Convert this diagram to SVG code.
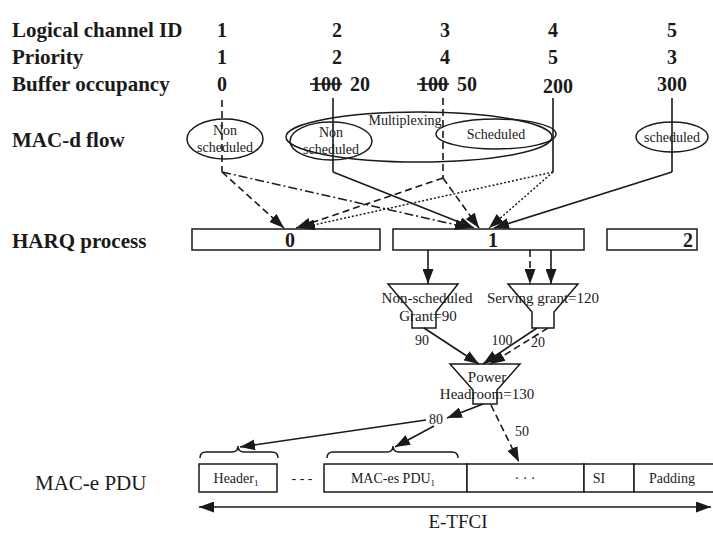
<svg xmlns="http://www.w3.org/2000/svg" width="713" height="534" viewBox="0 0 713 534">
<defs>
<marker id="ah" markerUnits="userSpaceOnUse" markerWidth="15" markerHeight="11" refX="15" refY="5.5" orient="auto"><path d="M0,0 L15,5.5 L0,11 z" fill="#1a1a1a"/></marker>
<marker id="ahs" markerUnits="userSpaceOnUse" markerWidth="15" markerHeight="11" refX="0" refY="5.5" orient="auto"><path d="M15,0 L0,5.5 L15,11 z" fill="#1a1a1a"/></marker>
<style>
.lbl{font-family:"Liberation Serif","Times New Roman",serif;font-size:21px;font-weight:bold;fill:#1a1a1a}
.num{font-family:"Liberation Serif","Times New Roman",serif;font-size:20px;font-weight:bold;fill:#1a1a1a;text-anchor:middle}
.sm{font-family:"Liberation Serif","Times New Roman",serif;font-size:14px;fill:#1a1a1a;text-anchor:middle}
.md{font-family:"Liberation Serif","Times New Roman",serif;font-size:15px;fill:#1a1a1a;text-anchor:middle}
.big{font-family:"Liberation Serif","Times New Roman",serif;font-size:19px;fill:#1a1a1a;text-anchor:middle}
.reg{font-family:"Liberation Serif","Times New Roman",serif;font-size:21px;fill:#1a1a1a}
.box{fill:#fff;stroke:#1a1a1a;stroke-width:1.5}
.shp{fill:none;stroke:#1a1a1a;stroke-width:1.5}
.s{fill:none;stroke:#1a1a1a;stroke-width:1.6}
.d{fill:none;stroke:#1a1a1a;stroke-width:1.6;stroke-dasharray:7 4}
.dd{fill:none;stroke:#1a1a1a;stroke-width:1.5;stroke-dasharray:9 3 2 3}
.dt{fill:none;stroke:#1a1a1a;stroke-width:1.5;stroke-dasharray:2 2}
</style>
</defs>
<rect width="713" height="534" fill="#fff"/>

<g id="row-labels">
<text class="lbl" x="12" y="37">Logical channel ID</text>
<text class="lbl" x="12" y="64">Priority</text>
<text class="lbl" x="12" y="91">Buffer occupancy</text>
<text class="lbl" x="12" y="147">MAC-d flow</text>
<text class="lbl" x="12" y="248">HARQ process</text>
<text class="reg" x="35" y="490">MAC-e PDU</text>
</g>

<g id="table-values">
<text class="num" x="222" y="37">1</text>
<text class="num" x="337" y="37">2</text>
<text class="num" x="445" y="37">3</text>
<text class="num" x="553" y="37">4</text>
<text class="num" x="672" y="37">5</text>
<text class="num" x="222" y="64">1</text>
<text class="num" x="337" y="64">2</text>
<text class="num" x="445" y="64">4</text>
<text class="num" x="553" y="64">5</text>
<text class="num" x="672" y="64">3</text>
<text class="num" x="222" y="91">0</text>
<text class="num" x="326" y="91">100</text>
<line x1="310" y1="84" x2="342" y2="84" stroke="#1a1a1a" stroke-width="1.6"/>
<text class="num" x="360" y="91">20</text>
<text class="num" x="433" y="91">100</text>
<line x1="417" y1="84" x2="449" y2="84" stroke="#1a1a1a" stroke-width="1.6"/>
<text class="num" x="467" y="91">50</text>
<text class="num" x="558" y="93">200</text>
<text class="num" x="672" y="91">300</text>
</g>

<g id="macd-flow1">
<ellipse class="shp" cx="225" cy="139" rx="38" ry="20"/>
<text class="sm" x="225" y="135">Non</text>
<text class="sm" x="225" y="152">scheduled</text>
</g>
<g id="multiplexing">
<ellipse class="shp" cx="419" cy="137" rx="133" ry="25"/>
<text class="sm" x="405" y="125">Multiplexing</text>
</g>
<g id="macd-flow2">
<ellipse class="shp" cx="331" cy="141" rx="41" ry="19"/>
<text class="sm" x="331" y="137">Non</text>
<text class="sm" x="331" y="154">scheduled</text>
</g>
<g id="macd-flow3">
<ellipse class="shp" cx="496" cy="134" rx="60" ry="15"/>
<text class="sm" x="496" y="139">Scheduled</text>
</g>
<g id="macd-flow4">
<ellipse class="shp" cx="672" cy="137" rx="36" ry="15"/>
<text class="sm" x="672" y="142">scheduled</text>
</g>

<g id="harq0"><rect class="box" x="192" y="229" width="188" height="21"/><text class="num" x="290" y="247">0</text></g>
<g id="harq1"><rect class="box" x="393" y="229" width="191" height="21"/><text class="num" x="493" y="247">1</text></g>
<g id="harq2"><rect class="box" x="607" y="229" width="90" height="21"/><text class="num" x="688" y="247">2</text></g>

<g id="grant-nonscheduled">
<path class="shp" d="M388,284 L458,284 L436,312 L436,328 L412,328 L412,312 Z"/>
<text class="md" x="427" y="303">Non-scheduled</text>
<text class="md" x="428" y="321">Grant=90</text>
</g>
<g id="grant-serving">
<path class="shp" d="M508,284 L578,284 L554,312 L554,328 L532,328 L532,312 Z"/>
<text class="md" x="543" y="303">Serving grant=120</text>
</g>
<g id="power-headroom">
<path class="shp" d="M450,364 L520,364 L497,390 L497,404 L473,404 L473,390 Z"/>
<text class="md" x="487" y="382">Power</text>
<text class="md" x="487" y="399">Headroom=130</text>
</g>

<g id="mac-e-pdu">
<rect class="box" x="199" y="464" width="78" height="28"/>
<text class="sm" x="236" y="483">Header<tspan font-size="9" dy="3">1</tspan></text>
<text class="sm" x="302" y="483" fill="#888">- - -</text>
<rect class="box" x="324" y="464" width="143" height="28"/>
<text class="sm" x="393" y="483">MAC-es PDU<tspan font-size="9" dy="3">1</tspan></text>
<rect class="box" x="467" y="464" width="117" height="28"/>
<text class="sm" x="525" y="483" fill="#bbb">· · ·</text>
<rect class="box" x="584" y="464" width="50" height="28"/>
<text class="sm" x="599" y="483">SI</text>
<rect class="box" x="634" y="464" width="80" height="28"/>
<text class="sm" x="672" y="483">Padding</text>
<path class="shp" d="M200,458 Q200,452 206,452 L232,452 Q238,452 238,446 Q238,452 244,452 L272,452 Q278,452 278,458"/>
<path class="shp" d="M327,458 Q327,452 333,452 L387,452 Q393,452 393,446 Q393,452 399,452 L452,452 Q458,452 458,458"/>
</g>

<g id="etfci">
<line class="s" x1="199" y1="507" x2="711" y2="507" marker-start="url(#ahs)" marker-end="url(#ah)"/>
<text class="big" x="458" y="528">E-TFCI</text>
</g>

<g id="connectors">
<line class="d" x1="222" y1="100" x2="222" y2="172"/>
<line class="s" x1="333" y1="98" x2="333" y2="172"/>
<line class="d" x1="443" y1="98" x2="443" y2="178"/>
<line class="s" x1="553" y1="98" x2="553" y2="172"/>
<line class="s" x1="672" y1="98" x2="672" y2="172"/>
<path class="d" d="M222,172 L284,228" marker-end="url(#ah)"/>
<path class="d" d="M443,178 L296,228" marker-end="url(#ah)"/>
<path class="dt" d="M553,172 L300,228" marker-end="url(#ah)"/>
<path class="dd" d="M222,172 L470,228" marker-end="url(#ah)"/>
<path class="s" d="M333,172 L474,228" marker-end="url(#ah)"/>
<path class="d" d="M443,178 L479,228" marker-end="url(#ah)"/>
<path class="dt" d="M553,172 L489,228" marker-end="url(#ah)"/>
<path class="s" d="M672,172 L494,228" marker-end="url(#ah)"/>
<line class="s" x1="428" y1="250" x2="428" y2="284" marker-end="url(#ah)"/>
<line class="d" x1="530" y1="250" x2="530" y2="284" marker-end="url(#ah)"/>
<line class="s" x1="551" y1="250" x2="551" y2="284" marker-end="url(#ah)"/>
<path class="s" d="M424,328 L479,364" marker-end="url(#ah)"/>
<path class="s" d="M537,328 L483,364" marker-end="url(#ah)"/>
<path class="d" d="M548,328 L490,364" marker-end="url(#ah)"/>
<text class="sm" x="422" y="345">90</text>
<text class="sm" x="502" y="345">100</text>
<text class="sm" x="538" y="347">20</text>
<path class="s" d="M483,404 L447,418" marker-end="url(#ah)"/>
<text class="sm" x="436" y="424">80</text>
<path class="s" d="M426,420 L240,447" marker-end="url(#ah)"/>
<path class="s" d="M434,426 L395,447" marker-end="url(#ah)"/>
<path class="d" d="M491,405 L519,462" marker-end="url(#ah)"/>
<text class="sm" x="522" y="436">50</text>
</g>
</svg>
